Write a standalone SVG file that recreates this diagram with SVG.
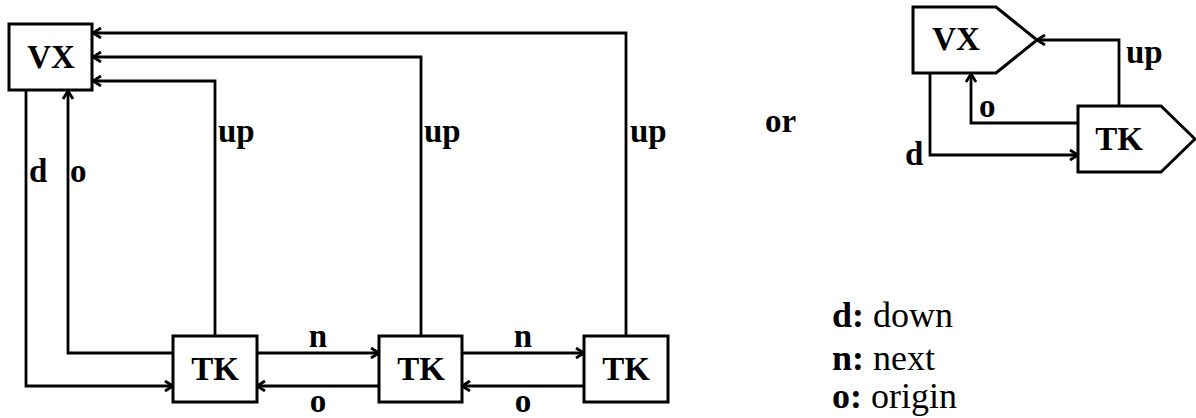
<svg xmlns="http://www.w3.org/2000/svg" width="1196" height="418" viewBox="0 0 1196 418">
<defs>
<marker id="arr" markerUnits="userSpaceOnUse" markerWidth="14" markerHeight="14" refX="10" refY="6" orient="auto">
<path d="M2,1 L10,6 L2,11" fill="none" stroke="#000" stroke-width="2.8"/>
</marker>
<style>
.box{fill:#fff;stroke:#000;stroke-width:3}
.con{fill:none;stroke:#000;stroke-width:2.8;marker-end:url(#arr)}
.t{font-weight:bold;font-size:33px;fill:#000}
.m{text-anchor:middle}
.lg{font-size:36px;fill:#000}
</style>
</defs>
<rect width="1196" height="418" fill="#fff"/>
<g id="connectors">
<path class="con" d="M215,336 V81 H93"/>
<path class="con" d="M421,336 V57 H93"/>
<path class="con" d="M626,336 V33 H93"/>
<path class="con" d="M26,90 V386 H173"/>
<path class="con" d="M173,353 H68 V91"/>
<path class="con" d="M257,353 H379"/>
<path class="con" d="M379,386 H257"/>
<path class="con" d="M462,353 H584"/>
<path class="con" d="M584,386 H462"/>
<path class="con" d="M1119,106 V40 H1037"/>
<path class="con" d="M1078,123 H971 V74"/>
<path class="con" d="M930,73 V155 H1078"/>
</g>
<g font-family="Liberation Serif, serif">
<g id="vx">
<rect class="box" x="9" y="24" width="83" height="66"/>
<text class="t m" x="51" y="68">VX</text>
</g>
<g id="tk1">
<rect class="box" x="173" y="336" width="84" height="66"/>
<text class="t m" x="215" y="380">TK</text>
</g>
<g id="tk2">
<rect class="box" x="379" y="336" width="83" height="66"/>
<text class="t m" x="421" y="380">TK</text>
</g>
<g id="tk3">
<rect class="box" x="584" y="336" width="84" height="66"/>
<text class="t m" x="626" y="380">TK</text>
</g>
<g id="labels">
<text class="t" x="29" y="182">d</text>
<text class="t" x="70" y="182">o</text>
<text class="t" x="218" y="142">up</text>
<text class="t" x="424" y="142">up</text>
<text class="t" x="630" y="142">up</text>
<text class="t m" x="318" y="347">n</text>
<text class="t m" x="523" y="347">n</text>
<text class="t m" x="318" y="412">o</text>
<text class="t m" x="523" y="412">o</text>
<text class="t" x="765" y="132">or</text>
</g>
<g id="vx2">
<polygon class="box" points="913,7 996,7 1037,40 996,73 913,73"/>
<text class="t m" x="956" y="50">VX</text>
</g>
<g id="tk4">
<polygon class="box" points="1078,106 1161,106 1195,139 1161,172 1078,172"/>
<text class="t m" x="1119" y="150">TK</text>
</g>
<g id="labels2">
<text class="t" x="1126" y="63">up</text>
<text class="t" x="979" y="117">o</text>
<text class="t" x="905" y="165">d</text>
</g>
<g id="legend">
<text class="lg" x="832" y="327"><tspan font-weight="bold">d:</tspan> down</text>
<text class="lg" x="832" y="370"><tspan font-weight="bold">n:</tspan> next</text>
<text class="lg" x="832" y="408"><tspan font-weight="bold">o:</tspan> origin</text>
</g>
</g>
</svg>
